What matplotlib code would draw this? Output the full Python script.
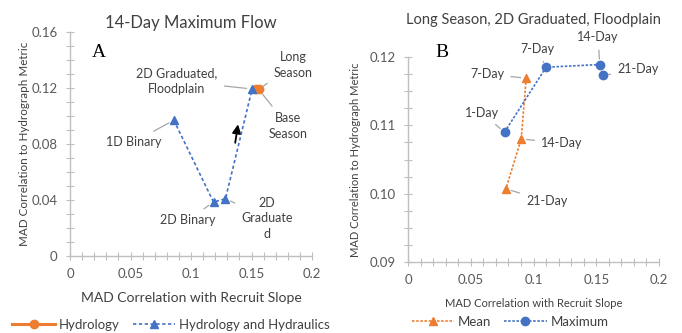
import matplotlib
matplotlib.use('Agg')
import matplotlib.pyplot as plt
from matplotlib.ticker import MultipleLocator, FuncFormatter

# 颜色
ORANGE = '#ED7D31'
BLUE = '#4472C4'
AXIS_C = '#BFBFBF'
TEXT_C = '#595959'
LEAD_C = '#A6A6A6'

plt.rcParams['font.family'] = ['Lato', 'DejaVu Sans']

# ---- 面板 A 数据 ----
hydro_x = [0.1535, 0.1560]
hydro_y = [0.1190, 0.1190]
hh_labels = ['1D Binary', '2D Binary', '2D\nGraduate\nd', '2D Graduated,\nFloodplain']
hh_x = [0.0858, 0.1186, 0.1285, 0.1505]
hh_y = [0.0970, 0.0385, 0.0409, 0.1193]

# ---- 面板 B 数据 ----
mean_labels = ['7-Day', '14-Day', '21-Day']
mean_x = [0.0942, 0.0902, 0.0780]
mean_y = [0.1169, 0.1080, 0.1007]
max_labels = ['1-Day', '7-Day', '14-Day', '21-Day']
max_x = [0.0769, 0.1100, 0.1528, 0.1554]
max_y = [0.1090, 0.1185, 0.1189, 0.1173]


def style_axes(ax, ymajor, yminor, yfmt, fs):
    for s in ['top', 'right']:
        ax.spines[s].set_visible(False)
    for s in ['left', 'bottom']:
        ax.spines[s].set_color(AXIS_C)
        ax.spines[s].set_linewidth(1.0)
    ax.xaxis.set_major_locator(MultipleLocator(0.05))
    ax.xaxis.set_minor_locator(MultipleLocator(0.01))
    ax.yaxis.set_major_locator(MultipleLocator(ymajor))
    ax.yaxis.set_minor_locator(MultipleLocator(yminor))
    ax.xaxis.set_major_formatter(FuncFormatter(lambda v, p: '0' if abs(v) < 1e-9 else ('%.2f' % v).rstrip('0')))
    ax.yaxis.set_major_formatter(FuncFormatter(yfmt))
    ax.tick_params(which='both', direction='inout', color=AXIS_C, length=6, width=0.8)
    ax.tick_params(which='major', labelsize=fs, labelcolor=TEXT_C, pad=6)


def leader(ax, text, xy, xytext, fs, **kw):
    ax.annotate(text, xy=xy, xytext=xytext, ha='center', va='center', fontsize=fs,
                color='#404040', linespacing=1.35,
                arrowprops=dict(arrowstyle='-', color=LEAD_C, lw=0.9, shrinkA=3, shrinkB=4), **kw)


fig = plt.figure(figsize=(6.82, 3.33), dpi=100)

# ================= 面板 A =================
axA = fig.add_axes([70 / 682, 1 - 256 / 333, 242 / 682, 224 / 333])
axA.set_xlim(0, 0.2)
axA.set_ylim(0, 0.16)
style_axes(axA, 0.04, 0.01, lambda v, p: '0' if abs(v) < 1e-9 else '%.2f' % v, 9.5)
axA.plot(hydro_x, hydro_y, '-o', color=ORANGE, lw=2.2, ms=6, label='Hydrology', zorder=3)
axA.plot(hh_x, hh_y, linestyle=(0, (2, 1.5)), marker='^', color=BLUE, lw=1.2, ms=6,
         label='Hydrology and Hydraulics', zorder=4)
axA.set_title('14-Day Maximum Flow', fontsize=12, color='#404040', pad=3)
axA.set_xlabel('MAD Correlation with Recruit Slope', fontsize=10, color='#404040', labelpad=8)
axA.set_ylabel('MAD Correlation to Hydrograph Metric', fontsize=8.4, color='#404040', labelpad=1)
axA.text(0.024, 0.1457, 'A', fontsize=14, family='Liberation Serif', ha='center', va='center')

fsA = 9
leader(axA, 'Long\nSeason', (hydro_x[1], hydro_y[1]), (0.1843, 0.1364), fsA)
leader(axA, 'Base\nSeason', (hydro_x[1], hydro_y[1]), (0.1800, 0.0929), fsA)
leader(axA, hh_labels[0], (hh_x[0], hh_y[0]), (0.0529, 0.0814), fsA)
leader(axA, hh_labels[1], (hh_x[1], hh_y[1]), (0.0975, 0.0257), fsA)
leader(axA, hh_labels[2], (hh_x[2], hh_y[2]), (0.1628, 0.0271), fsA)
leader(axA, hh_labels[3], (hh_x[3], hh_y[3]), (0.0884, 0.1250), fsA)
# 黑色箭头
axA.annotate('', xy=(0.1392, 0.0960), xytext=(0.1362, 0.0789),
             arrowprops=dict(arrowstyle='-|>', color='black', lw=1.3, mutation_scale=13))

axA.legend(loc='center', bbox_to_anchor=(171 / 682, 1 - 325 / 333), bbox_transform=fig.transFigure,
           ncol=2, frameon=False, fontsize=9.5, handlelength=3.2, columnspacing=1.0,
           handletextpad=0.3, labelcolor='#404040')

# ================= 面板 B =================
axB = fig.add_axes([408 / 682, 1 - 262 / 333, 251 / 682, 205 / 333])
axB.set_xlim(0, 0.2)
axB.set_ylim(0.09, 0.12)
style_axes(axB, 0.01, 0.0025, lambda v, p: '%.2f' % v, 9.5)
axB.plot(mean_x, mean_y, linestyle=(0, (1.5, 1)), marker='^', color=ORANGE, lw=1.2, ms=6,
         label='Mean', zorder=3)
axB.plot(max_x, max_y, linestyle=(0, (1.5, 1)), marker='o', color=BLUE, lw=1.2, ms=6,
         label='Maximum', zorder=4)
axB.set_title('Long Season, 2D Graduated, Floodplain', fontsize=10.5, color='#404040', pad=24)
axB.set_xlabel('MAD Correlation with Recruit Slope', fontsize=8, color='#404040', labelpad=8)
axB.set_ylabel('MAD Correlation to Hydrograph Metric', fontsize=8, color='#404040', labelpad=6)
axB.text(0.0271, 0.1206, 'B', fontsize=14, family='Liberation Serif', ha='center', va='center')

fsB = 9
leader(axB, max_labels[0], (max_x[0], max_y[0]), (0.0590, 0.1118), fsB)
leader(axB, max_labels[1], (max_x[1], max_y[1]), (0.1028, 0.1212), fsB)
leader(axB, max_labels[2], (max_x[2], max_y[2]), (0.1514, 0.1229), fsB)
leader(axB, max_labels[3], (max_x[3], max_y[3]), (0.1833, 0.1182), fsB)
leader(axB, mean_labels[0], (mean_x[0], mean_y[0]), (0.0629, 0.1175), fsB)
leader(axB, mean_labels[1], (mean_x[1], mean_y[1]), (0.1227, 0.1074), fsB)
leader(axB, mean_labels[2], (mean_x[2], mean_y[2]), (0.1108, 0.0989), fsB)
for t in axB.texts:
    t.set_clip_on(False)

axB.legend(loc='center', bbox_to_anchor=(510 / 682, 1 - 322 / 333), bbox_transform=fig.transFigure,
           ncol=2, frameon=False, fontsize=9.5, handlelength=3.2, columnspacing=1.0,
           handletextpad=0.3, labelcolor='#404040')

fig.savefig('out.png', dpi=100)
